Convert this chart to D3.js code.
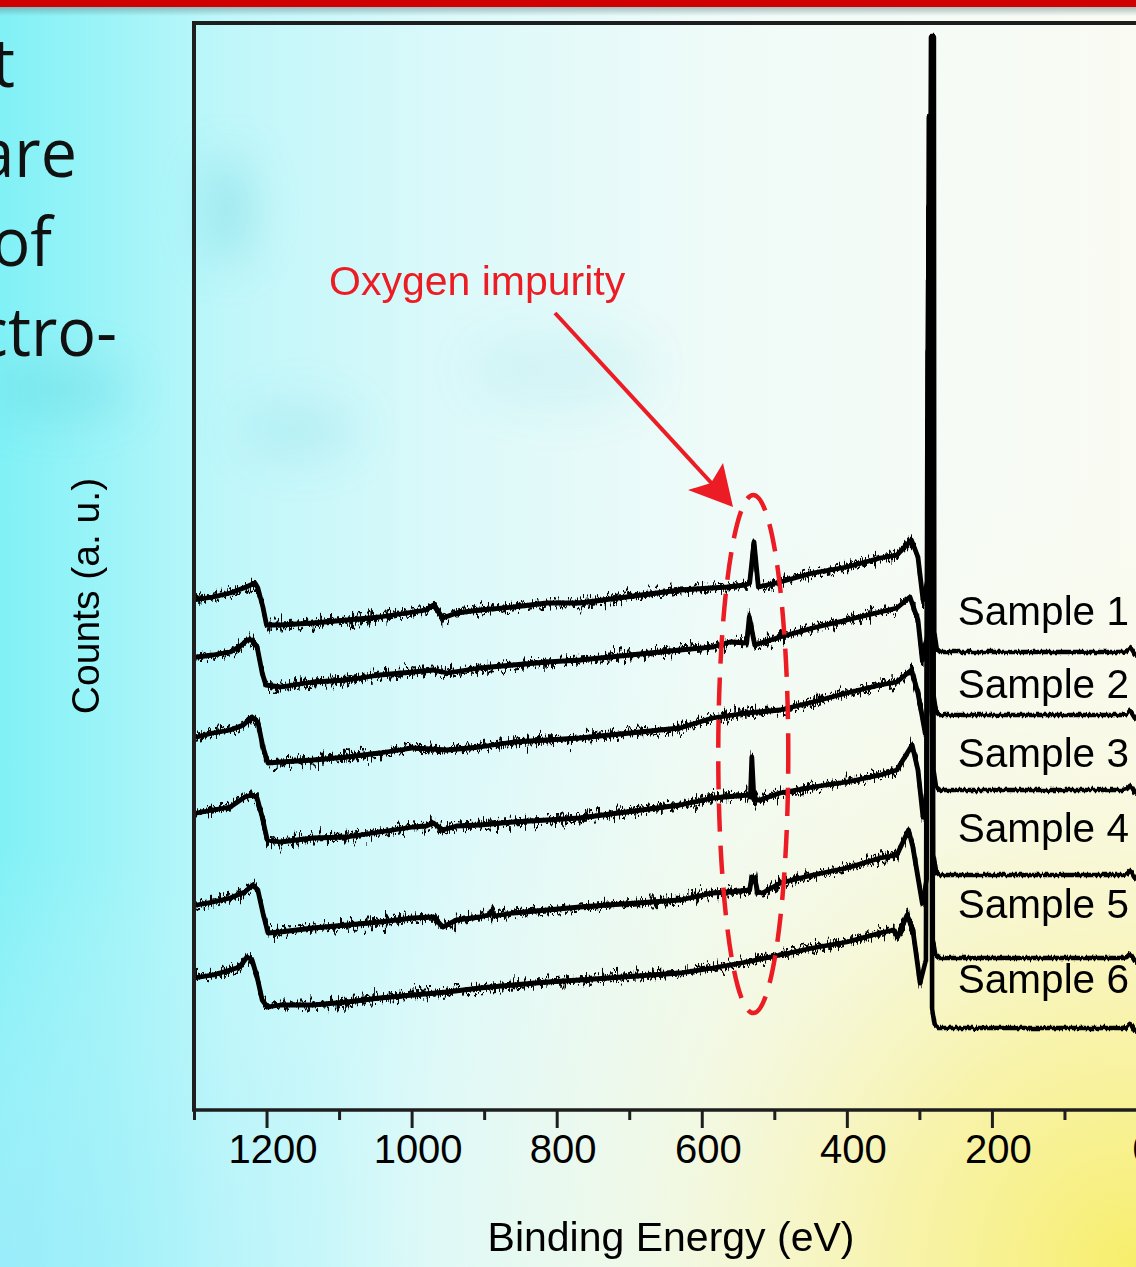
<!DOCTYPE html>
<html>
<head>
<meta charset="utf-8">
<script src="https://cdn.jsdelivr.net/npm/d3@7"></script>
<style>
  html, body { margin: 0; padding: 0; background: #e6fbfc; overflow: hidden; }
  svg { display: block; }
</style>
</head>
<body>
<svg id="chart" width="1136" height="1267"></svg>
<script>
// tick values on the binding energy axis (eV)
const majorTicks = [1200, 1000, 800, 600, 400, 200, 0];
const minorTicks = [1300, 1100, 900, 700, 500, 300, 100];

const sampleNames = ["Sample 1", "Sample 2", "Sample 3", "Sample 4", "Sample 5", "Sample 6"];
// level of each name, counts (a. u.)
const labelLevels = [485, 412, 343, 268, 192, 117];

// survey spectra: [binding energy (eV), counts (a. u.)]
const sample1 = [[1300, 510], [1274, 513], [1250, 517], [1228, 523], [1216, 527], [1212, 522], [1205, 503], [1200, 485],
  [1181, 485], [1136, 487], [1089, 490], [1044, 493], [998, 498], [980, 500], [970, 505], [957, 492], [938, 497],
  [906, 500], [860, 503], [813, 507], [768, 507], [630, 520], [565, 523], [540, 525], [534, 527], [528, 568], [522, 523],
  [492, 528], [447, 537], [400, 543], [354, 552], [331, 555], [311, 570], [302, 553], [295, 510], [287, 535],
  [284, 1074], [280, 1074], [279.5, 478], [276, 461], [271, 458], [150, 458], [20, 458], [14, 459], [10, 462], [8, 461], [3, 455], [0, 454]];

const sample2 = [[1296, 453], [1274, 455], [1250, 458], [1234, 465], [1227, 470], [1220, 470], [1213, 463], [1206, 437], [1201, 425],
  [1181, 423], [1136, 428], [1089, 430], [1044, 435], [998, 438], [970, 440], [951, 437], [906, 442], [860, 445],
  [813, 448], [768, 450], [630, 460], [585, 463], [561, 468], [538, 467], [534.5, 493], [527, 465], [492, 473],
  [447, 482], [400, 490], [354, 498], [331, 502], [313, 513], [302, 490], [296, 450], [289, 475],
  [287, 994], [281, 994], [280.5, 415], [277, 398], [272, 395], [150, 395], [20, 395], [14, 396], [10, 399], [8, 398], [3, 392], [0, 391]];

const sample3 = [[1296, 373], [1274, 377], [1250, 380], [1232, 385], [1220, 393], [1212, 388], [1205, 363], [1198, 347],
  [1181, 348], [1136, 350], [1089, 353], [1044, 357], [998, 362], [951, 360], [906, 363], [860, 368], [813, 370],
  [768, 372], [630, 382], [585, 392], [538, 397], [492, 400], [447, 408], [400, 417], [354, 425], [331, 428],
  [311, 440], [302, 417], [292, 377], [289, 400],
  [287.5, 903], [281, 903], [280.5, 340], [277, 323], [272, 320], [150, 320], [20, 320], [14, 321], [10, 324], [8, 323], [3, 317], [0, 316]];

const sample4 = [[1296, 297], [1274, 300], [1250, 303], [1230, 313], [1220, 315], [1213, 312], [1206, 293], [1199, 270],
  [1181, 268], [1136, 272], [1089, 273], [1044, 278], [998, 283], [980, 284], [970, 287], [957, 280], [938, 284],
  [906, 285], [860, 288], [813, 290], [768, 292], [630, 305], [585, 312], [536, 315], [533, 313], [531, 353], [528, 310],
  [520, 310], [492, 317], [447, 323], [400, 328], [354, 335], [331, 340], [310, 365], [302, 340], [295, 293], [290, 320],
  [288, 830], [282, 830], [281, 255], [277, 238], [272, 235], [150, 235], [20, 235], [14, 236], [10, 239], [8, 238], [3, 232], [0, 231]];

const sample5 = [[1296, 205], [1274, 208], [1250, 212], [1230, 218], [1219, 225], [1212, 220], [1205, 197], [1198, 177],
  [1181, 178], [1136, 182], [1089, 185], [1044, 188], [998, 192], [970, 193], [957, 183], [938, 190], [906, 193],
  [894, 195], [890, 199], [886, 194], [860, 197], [813, 200], [768, 203], [630, 210], [585, 217], [561, 218], [534, 220],
  [531, 233], [527, 232], [523, 218], [516, 217], [492, 227], [447, 235], [400, 242], [354, 252], [331, 255],
  [315, 280], [309, 263], [296, 207], [290, 230],
  [288.5, 760], [282, 760], [281.5, 170], [278, 155], [273, 152], [150, 152], [20, 152], [14, 153], [10, 156], [8, 155], [3, 149], [0, 148]];

const sample6 = [[1300, 132], [1274, 135], [1250, 140], [1237, 143], [1227, 153], [1220, 150], [1213, 133], [1206, 110],
  [1199, 103], [1181, 105], [1136, 105], [1089, 108], [1044, 112], [998, 115], [951, 118], [906, 122], [860, 125],
  [813, 128], [768, 130], [630, 137], [585, 142], [538, 148], [492, 155], [447, 162], [400, 168], [354, 177],
  [336, 180], [330, 173], [317, 195], [309, 180], [299, 127], [291, 150],
  [289, 690], [283, 690], [282.5, 102], [279, 85], [274, 82], [150, 82], [20, 82], [14, 83], [10, 86], [8, 85], [3, 79], [0, 78]];

const samples = [sample1, sample2, sample3, sample4, sample5, sample6];

const svg = d3.select("#chart");
const W = 1136, H = 1267;

const x = d3.scaleLinear().domain([1300, 0]).range([194, 1137]);
const y = d3.scaleLinear().domain([0, 1087]).range([1110, 23]);

const defs = svg.append("defs");

// background of the slide
const bg = defs.append("linearGradient").attr("id", "bgH").attr("x1", 0).attr("x2", 1).attr("y1", 0).attr("y2", 0);
[[0, "#80f1f6"], [0.1, "#9ef4f8"], [0.2, "#c0f7fa"], [0.4, "#dcf9fa"], [0.65, "#f0fbf8"], [1, "#fafbf3"]]
  .forEach(s => bg.append("stop").attr("offset", s[0]).attr("stop-color", s[1]));

const yel = defs.append("radialGradient").attr("id", "bgY")
  .attr("gradientUnits", "userSpaceOnUse").attr("cx", 1136).attr("cy", 1267).attr("r", 820);
[[0, "#f7ee6a", 1], [0.3, "#f8f19a", 0.8], [0.6, "#f8f6cc", 0.4], [1, "#fafaf0", 0]]
  .forEach(s => yel.append("stop").attr("offset", s[0]).attr("stop-color", s[1]).attr("stop-opacity", s[2]));

const cyanLow = defs.append("radialGradient").attr("id", "bgC")
  .attr("gradientUnits", "userSpaceOnUse").attr("cx", 0).attr("cy", 1267).attr("r", 420);
[[0, "#9cecfa", 0.9], [1, "#c0f4fa", 0]]
  .forEach(s => cyanLow.append("stop").attr("offset", s[0]).attr("stop-color", s[1]).attr("stop-opacity", s[2]));

const shadow = defs.append("linearGradient").attr("id", "shadow").attr("x1", 0).attr("x2", 0).attr("y1", 0).attr("y2", 1);
shadow.append("stop").attr("offset", 0).attr("stop-color", "#6a8c90").attr("stop-opacity", 0.55);
shadow.append("stop").attr("offset", 1).attr("stop-color", "#6a8c90").attr("stop-opacity", 0);

const blur = defs.append("filter").attr("id", "blur").attr("x", "-50%").attr("y", "-50%").attr("width", "200%").attr("height", "200%");
blur.append("feGaussianBlur").attr("stdDeviation", 22);

// detector noise look for the traces (vertical jitter only)
function noiseFilter(id, amount, freq, seed) {
  const f = defs.append("filter").attr("id", id)
    .attr("filterUnits", "userSpaceOnUse").attr("x", 0).attr("y", 0).attr("width", W).attr("height", H)
    .attr("color-interpolation-filters", "sRGB");
  f.append("feTurbulence").attr("type", "fractalNoise").attr("baseFrequency", freq)
    .attr("numOctaves", 2).attr("seed", seed).attr("result", "t");
  f.append("feColorMatrix").attr("in", "t").attr("type", "matrix")
    .attr("values", "0 0 0 0 0.5  0 1 0 0 0  0 0 0 0 0.5  0 0 0 0 1").attr("result", "m");
  f.append("feDisplacementMap").attr("in", "SourceGraphic").attr("in2", "m")
    .attr("scale", amount).attr("xChannelSelector", "R").attr("yChannelSelector", "G");
}
noiseFilter("noisy", 30, "0.3 0.05", 4);
noiseFilter("noisy2", 20, "0.6 0.07", 11);
noiseFilter("quiet", 5, "0.5 0.05", 9);

defs.append("clipPath").attr("id", "plotClip")
  .append("rect").attr("x", 194).attr("y", 23).attr("width", W - 194).attr("height", 1087);

svg.append("rect").attr("width", W).attr("height", H).attr("fill", "url(#bgH)");
svg.append("rect").attr("width", W).attr("height", H).attr("fill", "url(#bgC)");
svg.append("rect").attr("width", W).attr("height", H).attr("fill", "url(#bgY)");

// soft darker blotches of the slide background
const blots = svg.append("g").attr("filter", "url(#blur)").attr("fill", "#4ccbd4");
blots.append("ellipse").attr("cx", 228).attr("cy", 210).attr("rx", 25).attr("ry", 55).attr("opacity", 0.3);
blots.append("ellipse").attr("cx", 60).attr("cy", 390).attr("rx", 70).attr("ry", 30).attr("opacity", 0.25);
blots.append("ellipse").attr("cx", 300).attr("cy", 430).attr("rx", 60).attr("ry", 30).attr("opacity", 0.15);
blots.append("ellipse").attr("cx", 560).attr("cy", 370).attr("rx", 90).attr("ry", 40).attr("opacity", 0.1);

// slide header bar
svg.append("rect").attr("x", 0).attr("y", 7).attr("width", W).attr("height", 9).attr("fill", "url(#shadow)");
svg.append("rect").attr("x", 0).attr("y", 0).attr("width", W).attr("height", 7).attr("fill", "#d10000");

// slide body text, cut by the left edge as in the source slide
const bodyText = ["t", "are", "of", "ctro-"];
const bodyRight = [15, 77, 52, 117];
bodyText.forEach((t, i) => {
  svg.append("text")
    .attr("transform", `translate(${bodyRight[i]},${87 + i * 89.5}) scale(0.95,1)`)
    .attr("text-anchor", "end")
    .attr("font-family", "'Open Sans', 'Noto Sans', sans-serif")
    .attr("font-size", 68)
    .attr("fill", "#111")
    .text(t);
});

// spectra
const line = d3.line().x(d => x(d[0])).y(d => y(d[1]));
const traces = svg.append("g").attr("clip-path", "url(#plotClip)")
  .attr("fill", "none").attr("stroke", "#000")
  .attr("stroke-linejoin", "round").attr("stroke-linecap", "round");

samples.forEach(s => {
  const peak = d3.maxIndex(s, d => d[1]);
  const split = peak - 2;
  const left = line(s.slice(0, split + 1));
  traces.append("path").attr("stroke-width", 4.8).attr("d", left);
  traces.append("path").attr("stroke-width", 2.8).attr("filter", "url(#noisy)").attr("d", left);
  traces.append("path").attr("stroke-width", 3.2).attr("filter", "url(#noisy2)").attr("d", left);
  traces.append("path").attr("stroke-width", 4.6).attr("filter", "url(#quiet)").attr("d", line(s.slice(split)));
});

// axes
const axisColor = "#1e1e1e";
const gMinor = svg.append("g").attr("transform", "translate(0,1110)")
  .call(d3.axisBottom(x).tickValues(minorTicks).tickSize(10).tickFormat(""));
const gMajor = svg.append("g").attr("transform", "translate(0,1110)")
  .call(d3.axisBottom(x).tickValues(majorTicks).tickSize(18).tickFormat(d3.format("d")));
[gMinor, gMajor].forEach(g => {
  g.select(".domain").remove();
  g.selectAll(".tick line").attr("stroke", axisColor).attr("stroke-width", 3);
});
gMajor.selectAll(".tick text")
  .attr("y", 25).attr("dy", "0.71em").attr("dx", 6)
  .attr("fill", "#000")
  .attr("font-family", "'Liberation Sans', Arial, sans-serif")
  .attr("font-size", 40);

svg.append("path")
  .attr("d", `M194,1110 V23 H${W}`)
  .attr("fill", "none").attr("stroke", axisColor).attr("stroke-width", 4);
svg.append("path")
  .attr("d", `M192,1110 H${W}`)
  .attr("fill", "none").attr("stroke", axisColor).attr("stroke-width", 3.5);

svg.append("text")
  .attr("x", 671).attr("y", 1251)
  .attr("text-anchor", "middle")
  .attr("font-family", "'Liberation Sans', Arial, sans-serif")
  .attr("font-size", 41)
  .text("Binding Energy (eV)");

svg.append("text")
  .attr("transform", "translate(99,596) rotate(-90)")
  .attr("text-anchor", "middle")
  .attr("font-family", "'Liberation Sans', Arial, sans-serif")
  .attr("font-size", 39)
  .text("Counts (a. u.)");

// sample names
svg.append("g").selectAll("text").data(sampleNames).join("text")
  .attr("x", x(247))
  .attr("y", (d, i) => y(labelLevels[i]))
  .attr("font-family", "'Liberation Sans', Arial, sans-serif")
  .attr("font-size", 40.5)
  .attr("fill", "#000")
  .text(d => d);

// oxygen impurity callout
const red = "#ec1c24";
svg.append("text")
  .attr("x", 329).attr("y", 295)
  .attr("font-family", "'Liberation Sans', Arial, sans-serif")
  .attr("font-size", 41)
  .attr("fill", red)
  .text("Oxygen impurity");

svg.append("line")
  .attr("x1", 555).attr("y1", 313).attr("x2", 716).attr("y2", 488)
  .attr("stroke", red).attr("stroke-width", 4);
svg.append("path")
  .attr("d", "M733,507 L688,490 L711,483 L723,463 Z")
  .attr("fill", red);

svg.append("ellipse")
  .attr("cx", x(529)).attr("cy", 754)
  .attr("rx", 35).attr("ry", 259)
  .attr("fill", "none").attr("stroke", red).attr("stroke-width", 4.5)
  .attr("stroke-dasharray", "28 14").attr("stroke-dashoffset", 8);
</script>
</body>
</html>
